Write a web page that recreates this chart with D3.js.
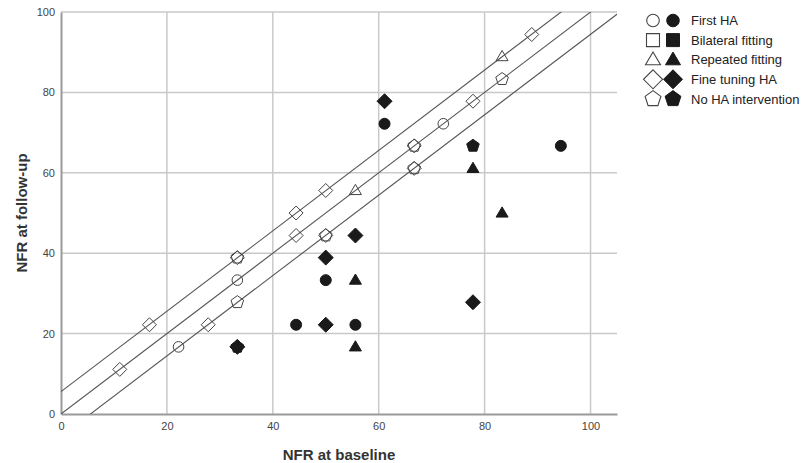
<!DOCTYPE html>
<html>
<head>
<meta charset="utf-8">
<script src="https://cdn.jsdelivr.net/npm/d3@7"></script>
<style>
  html, body { margin: 0; padding: 0; background: #fff; }
  svg { display: block; font-family: "Liberation Sans", Arial, sans-serif; }
</style>
</head>
<body>
<svg id="chart" width="803" height="463"></svg>
<script>
// ---- data (NFR values, %) ----
const xTicks = [0, 20, 40, 60, 80, 100];
const yTicks = [0, 20, 40, 60, 80, 100];
const refOffsets = [5.56, 0, -5.56];

const groups = ["First HA", "Bilateral fitting", "Repeated fitting", "Fine tuning HA", "No HA intervention"];
const shapes = ["circle", "square", "triangle", "diamond", "pentagon"];

// open markers (baseline x, follow-up y)
const openCircleX = [22.2, 33.3, 72.2];
const openCircleY = [16.7, 33.3, 72.2];
const openTriangleX = [55.6, 83.3];
const openTriangleY = [55.6, 88.9];
const openDiamondX = [11.1, 16.7, 27.8, 33.3, 44.4, 50.0, 44.4, 50.0, 66.7, 77.8, 88.9, 66.7];
const openDiamondY = [11.1, 22.2, 22.2, 38.9, 50.0, 55.6, 44.4, 44.4, 66.7, 77.8, 94.4, 61.1];
const openPentagonX = [33.3, 83.3, 66.7, 66.7, 33.3, 50.0];
const openPentagonY = [27.8, 83.3, 61.1, 66.7, 38.9, 44.4];

// filled markers
const fillCircleX = [44.4, 50.0, 55.6, 61.1, 94.4];
const fillCircleY = [22.2, 33.3, 22.2, 72.2, 66.7];
const fillTriangleX = [55.6, 55.6, 77.8, 83.3];
const fillTriangleY = [33.3, 16.7, 61.1, 50.0];
const fillDiamondX = [33.3, 50.0, 50.0, 55.6, 61.1, 77.8];
const fillDiamondY = [16.7, 38.9, 22.2, 44.4, 77.8, 27.8];
const fillPentagonX = [77.8, 33.3];
const fillPentagonY = [66.7, 16.7];

// ---- layout ----
const svg = d3.select("#chart");
const pL = 61, pR = 617, pT = 12, pB = 414;
const x = d3.scaleLinear().domain([0, 105]).range([pL, pR]);
const y = d3.scaleLinear().domain([0, 100]).range([pB, pT]);

// shape path generator
function shapePath(type, s) {
  if (type === "circle") {
    return d3.symbol().type(d3.symbolCircle).size(Math.PI * s * s)();
  }
  const pts = [];
  if (type === "square") {
    pts.push([-s, -s], [s, -s], [s, s], [-s, s]);
  } else if (type === "diamond") {
    pts.push([0, -s], [s, 0], [0, s], [-s, 0]);
  } else if (type === "triangle") {
    const h = s * 1.7;
    pts.push([0, -h * 0.6], [s, h * 0.4], [-s, h * 0.4]);
  } else if (type === "pentagon") {
    for (let i = 0; i < 5; i++) {
      const a = -Math.PI / 2 + i * 2 * Math.PI / 5;
      pts.push([s * Math.cos(a), s * Math.sin(a)]);
    }
  }
  return "M" + pts.map(p => p[0].toFixed(2) + "," + p[1].toFixed(2)).join("L") + "Z";
}

// gridlines
const grid = svg.append("g");
grid.selectAll(".vg").data(xTicks.filter(d => d > 0)).enter().append("line")
  .attr("x1", d => x(d)).attr("x2", d => x(d))
  .attr("y1", pT).attr("y2", pB)
  .attr("stroke", "#c9c9c9").attr("stroke-width", 1.5);
grid.selectAll(".hg").data(yTicks.filter(d => d > 0)).enter().append("line")
  .attr("x1", pL).attr("x2", pR)
  .attr("y1", d => y(d)).attr("y2", d => y(d))
  .attr("stroke", "#c9c9c9").attr("stroke-width", 1.5);

// axes
const xAxis = d3.axisBottom(x).tickValues(xTicks).tickSize(0).tickPadding(8);
const yAxis = d3.axisLeft(y).tickValues(yTicks).tickSize(0).tickPadding(6);
const gx = svg.append("g").attr("transform", `translate(0,${pB})`).call(xAxis);
const gy = svg.append("g").attr("transform", `translate(${pL},0)`).call(yAxis);
[gx, gy].forEach(g => {
  g.select(".domain").attr("stroke", "#9a9a9a").attr("stroke-width", 2);
  g.selectAll("text").attr("fill", "#444").attr("font-size", 11)
    .attr("font-family", "Liberation Sans, Arial, sans-serif");
});

// reference lines y = x + c, clipped to plot
svg.append("clipPath").attr("id", "clip").append("rect")
  .attr("x", pL).attr("y", pT).attr("width", pR - pL).attr("height", pB - pT);
const line = d3.line().x(d => x(d[0])).y(d => y(d[1]));
svg.append("g").attr("clip-path", "url(#clip)")
  .selectAll("path").data(refOffsets).enter().append("path")
  .attr("d", c => line([[-10, -10 + c], [120, 120 + c]]))
  .attr("fill", "none").attr("stroke", "#555").attr("stroke-width", 1.1);

// markers
function drawSet(xs, ys, type, filled, s) {
  const pts = xs.map((v, i) => [v, ys[i]]);
  svg.append("g").selectAll("path").data(pts).enter().append("path")
    .attr("transform", d => `translate(${x(d[0])},${y(d[1])})`)
    .attr("d", shapePath(type, s))
    .attr("fill", filled ? "#1a1a1a" : "#fff")
    .attr("fill-opacity", filled ? 1 : 0)
    .attr("stroke", filled ? "#1a1a1a" : "#444")
    .attr("stroke-width", 1);
}
drawSet(openCircleX, openCircleY, "circle", false, 5.3);
drawSet(openTriangleX, openTriangleY, "triangle", false, 6);
drawSet(openPentagonX, openPentagonY, "pentagon", false, 6.6);
drawSet(openDiamondX, openDiamondY, "diamond", false, 7);
drawSet(fillPentagonX, fillPentagonY, "pentagon", true, 6.6);
drawSet(fillCircleX, fillCircleY, "circle", true, 5.5);
drawSet(fillTriangleX, fillTriangleY, "triangle", true, 6);
drawSet(fillDiamondX, fillDiamondY, "diamond", true, 7.5);

// legend
const legendSizes = { circle: 6.3, square: 6.5, triangle: 7.5, diamond: 9.5, pentagon: 8.3 };
const lg = svg.append("g");
groups.forEach((g, i) => {
  const cy = 20.5 + i * 19.6;
  const t = shapes[i];
  lg.append("path").attr("transform", `translate(653,${cy})`)
    .attr("d", shapePath(t, legendSizes[t]))
    .attr("fill", "#fff").attr("stroke", "#444").attr("stroke-width", 1.1);
  lg.append("path").attr("transform", `translate(673,${cy})`)
    .attr("d", shapePath(t, legendSizes[t]))
    .attr("fill", "#1a1a1a").attr("stroke", "#1a1a1a").attr("stroke-width", 1);
  lg.append("text").attr("x", 691).attr("y", cy).attr("dy", "0.36em")
    .attr("font-size", 13).attr("fill", "#222").text(g);
});

// axis titles
svg.append("text").attr("x", (pL + pR) / 2).attr("y", 460)
  .attr("text-anchor", "middle").attr("font-size", 15).attr("font-weight", "bold")
  .attr("fill", "#333").text("NFR at baseline");
svg.append("text").attr("transform", `translate(27,${(pT + pB) / 2}) rotate(-90)`)
  .attr("text-anchor", "middle").attr("font-size", 15).attr("font-weight", "bold")
  .attr("fill", "#333").text("NFR at follow-up");
</script>
</body>
</html>
